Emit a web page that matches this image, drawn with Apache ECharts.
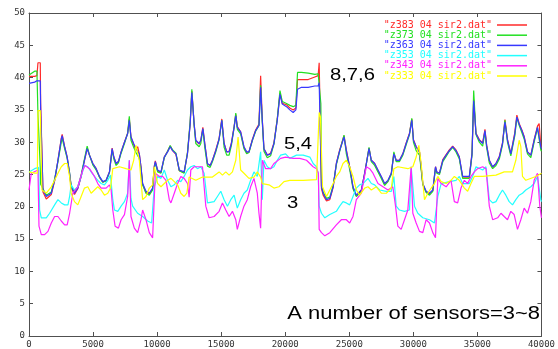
<!DOCTYPE html>
<html>
<head>
<meta charset="utf-8">
<script src="https://cdn.jsdelivr.net/npm/echarts@6/dist/echarts.min.js"></script>
<style>
  html, body { margin: 0; padding: 0; background: #fff; }
  #complexChart { width: 558px; height: 349px; }
</style>
</head>
<body>
<div id="complexChart"></div>
<script>
// sensors 8,7,6 share one x grid
const topX = [
  0, 440, 620, 700, 880, 910, 1090, 1350, 1740, 2000,
  2260, 2520, 2590, 2780, 2980, 3170, 3290, 3550, 3810, 4070,
  4330, 4540, 4720, 4980, 5240, 5500, 5760, 6020, 6280, 6490,
  6620, 6800, 6980, 7190, 7450, 7700, 7830, 7960, 8170, 8350,
  8480, 8610, 8740, 8870, 9130, 9390, 9650, 9780, 9860, 10040,
  10300, 10560, 10820, 11020, 11210, 11470, 11730, 12110, 12370, 12580,
  12710, 12890, 13020, 13280, 13410, 13570, 13720, 13930, 14140, 14320,
  14580, 14840, 15050, 15230, 15430, 15620, 15800, 16010, 16140, 16260,
  16520, 16780, 16990, 17170, 17430, 17690, 17950, 18080, 18210, 18340,
  18600, 18860, 19120, 19380, 19590, 19770, 20100, 20360, 20620, 20830,
  20960, 21270, 21790, 22310, 22570, 22650, 22780, 22830, 22960, 23220,
  23480, 23740, 23990, 24250, 24590, 24770, 25030, 25290, 25550, 25940,
  26200, 26540, 26720, 26980, 27240, 27500, 27760, 28020, 28280, 28480,
  28660, 28920, 29180, 29440, 29700, 29880, 30010, 30220, 30480, 30610,
  30740, 31000, 31260, 31520, 31730, 31830, 32040, 32300, 32560, 32810,
  33070, 33330, 33590, 33850, 34370, 34580, 34710, 34890, 35150, 35410,
  35590, 35720, 35930, 36190, 36450, 36710, 36960, 37150, 37350, 37610,
  37740, 37920, 38080, 38260, 38470, 38650, 38910, 39170, 39430, 39690,
  39820, 39950, 40000
]
const z383 = [
  40.2, 40.2, 40.3, 42.3, 42.3, 36.0, 22.3, 21.2, 21.9, 24.0,
  27.2, 30.6, 31.2, 29.3, 27.7, 25.0, 23.0, 21.9, 22.8, 24.7,
  27.2, 29.1, 28.0, 26.7, 25.9, 24.6, 23.8, 24.1, 25.4, 29.1,
  27.7, 26.7, 27.0, 28.5, 30.0, 31.4, 33.6, 30.8, 29.6, 28.9,
  29.3, 28.2, 26.2, 23.5, 22.2, 22.0, 22.8, 26.3, 27.1, 25.6,
  25.3, 27.7, 28.6, 29.4, 28.7, 28.1, 25.6, 25.3, 28.3, 32.9,
  37.9, 32.8, 30.2, 29.7, 30.3, 32.3, 29.8, 26.6, 26.4, 27.2,
  28.8, 30.6, 33.6, 29.8, 28.5, 28.6, 29.9, 32.4, 34.3, 32.4,
  31.6, 29.2, 28.4, 28.5, 30.4, 31.9, 32.8, 40.3, 33.5, 29.0,
  28.0, 28.3, 29.9, 33.6, 37.6, 36.0, 35.8, 35.3, 35.0, 35.3,
  39.7, 39.7, 39.7, 40.1, 40.3, 42.3, 42.3, 22.8, 21.8, 20.9,
  21.1, 23.0, 26.7, 28.8, 31.0, 28.8, 26.2, 23.0, 21.7, 22.5,
  25.2, 29.1, 27.2, 26.7, 25.6, 24.6, 23.5, 24.0, 25.2, 28.3,
  27.2, 27.2, 28.2, 29.9, 31.4, 33.6, 30.4, 29.3, 28.5, 26.1,
  23.5, 22.3, 22.0, 22.5, 26.2, 25.4, 25.2, 27.3, 28.1, 28.8,
  29.4, 28.8, 27.7, 24.6, 24.6, 28.3, 36.6, 31.4, 30.4, 29.9,
  32.0, 29.6, 27.2, 26.1, 26.7, 27.8, 29.9, 33.5, 30.4, 28.2,
  28.2, 31.5, 34.2, 32.9, 31.9, 30.9, 28.5, 28.0, 30.4, 32.5,
  32.9, 29.4, 29.1
]
const z373 = [
  40.4, 41.0, 41.0, 34.3, 26.0, 23.5, 22.8, 21.8, 22.3, 24.3,
  27.0, 30.0, 30.6, 29.0, 27.5, 25.2, 23.3, 22.3, 23.1, 24.9,
  27.4, 29.4, 28.0, 26.5, 25.7, 24.6, 23.8, 24.0, 25.3, 28.8,
  27.4, 26.4, 26.8, 28.3, 29.8, 31.4, 34.0, 30.3, 29.2, 28.4,
  28.6, 27.5, 25.8, 23.4, 22.1, 21.8, 22.6, 26.0, 26.8, 25.4,
  25.2, 27.6, 28.6, 29.5, 28.8, 28.3, 25.6, 25.2, 28.4, 33.2,
  38.2, 32.6, 29.8, 29.3, 29.8, 32.0, 29.2, 26.3, 26.1, 27.0,
  28.5, 30.4, 33.4, 29.2, 28.0, 28.0, 29.5, 32.3, 34.5, 32.0,
  31.3, 29.0, 28.2, 28.4, 30.2, 31.7, 32.6, 38.8, 33.0, 28.6,
  27.6, 27.9, 29.7, 33.6, 38.0, 36.3, 36.0, 35.7, 35.5, 35.7,
  40.8, 40.8, 40.7, 40.5, 40.6, 40.8, 36.0, 23.3, 22.3, 21.3,
  21.5, 23.3, 26.5, 28.6, 31.1, 28.2, 25.8, 22.8, 21.6, 22.4,
  25.0, 29.2, 27.0, 26.4, 25.4, 24.4, 23.3, 23.9, 25.0, 28.5,
  27.0, 27.0, 28.0, 29.6, 31.2, 33.7, 30.0, 28.7, 28.0, 25.8,
  23.4, 22.2, 21.8, 22.4, 26.0, 25.2, 25.0, 27.0, 27.8, 28.6,
  29.2, 28.5, 27.4, 24.4, 24.4, 28.0, 38.0, 31.2, 30.0, 29.4,
  31.6, 29.2, 26.8, 25.9, 26.4, 27.4, 29.6, 33.4, 30.0, 27.9,
  27.7, 31.0, 33.8, 32.6, 31.5, 30.5, 28.2, 27.6, 30.0, 32.2,
  32.4, 28.8, 28.6
]
const z363 = [
  39.1, 39.3, 39.5, 39.5, 39.5, 35.0, 22.6, 21.6, 22.1, 24.1,
  27.2, 30.5, 31.0, 29.3, 27.7, 25.2, 23.1, 22.1, 22.9, 24.7,
  27.2, 29.0, 28.0, 26.7, 25.9, 24.7, 23.9, 24.1, 25.4, 29.0,
  27.7, 26.7, 27.0, 28.5, 30.0, 31.3, 33.4, 30.8, 29.8, 29.0,
  29.3, 28.2, 26.2, 23.6, 22.4, 22.1, 22.9, 26.2, 27.0, 25.7,
  25.4, 27.7, 28.5, 29.3, 28.7, 28.2, 25.7, 25.4, 28.2, 32.8,
  37.7, 32.8, 30.3, 29.8, 30.3, 32.1, 29.8, 26.7, 26.4, 27.2,
  28.7, 30.5, 33.4, 29.8, 28.5, 28.5, 29.8, 32.3, 34.1, 32.3,
  31.6, 29.3, 28.5, 28.5, 30.3, 31.8, 32.6, 38.5, 33.4, 29.0,
  28.0, 28.2, 29.8, 33.4, 37.4, 35.9, 35.5, 35.0, 34.6, 35.0,
  38.2, 38.5, 38.5, 38.7, 38.7, 39.2, 39.5, 23.1, 22.1, 21.1,
  21.3, 23.1, 26.7, 28.7, 30.8, 28.7, 26.2, 23.1, 21.8, 22.6,
  25.2, 29.0, 27.2, 26.7, 25.7, 24.7, 23.6, 24.1, 25.2, 28.2,
  27.2, 27.2, 28.2, 29.8, 31.3, 33.4, 30.3, 29.3, 28.5, 26.2,
  23.6, 22.4, 22.1, 22.6, 26.2, 25.4, 25.2, 27.2, 28.0, 28.7,
  29.3, 28.7, 27.7, 24.7, 24.7, 28.2, 36.4, 31.3, 30.3, 29.8,
  31.8, 29.5, 27.2, 26.2, 26.7, 27.7, 29.8, 33.1, 30.3, 28.2,
  28.2, 31.3, 33.9, 32.8, 31.8, 30.8, 28.5, 28.0, 30.3, 32.3,
  32.6, 29.3, 29.0
]

const z353X = [
  0, 440, 750, 830, 960, 1350, 1610, 2000, 2260, 2520,
  2780, 3040, 3170, 3290, 3550, 3810, 4070, 4330, 4590, 4850,
  5110, 5370, 5630, 5890, 6150, 6360, 6540, 6670, 6930, 7190,
  7450, 7700, 7830, 7960, 8090, 8480, 8870, 9260, 9570, 9780,
  10040, 10300, 10560, 10820, 11080, 11340, 11600, 11850, 12110, 12370,
  12630, 12890, 13150, 13410, 13670, 13930, 14450, 14710, 14970, 15230,
  15490, 15750, 16010, 16260, 16520, 16780, 17040, 17300, 17560, 17820,
  18080, 18210, 18340, 18600, 18860, 19120, 19380, 19640, 20030, 20360,
  20880, 21400, 21920, 22180, 22440, 22570, 22650, 22830, 23090, 23480,
  23990, 24250, 24510, 24770, 25030, 25290, 25550, 25810, 26070, 26460,
  26720, 26980, 27370, 27890, 28280, 28480, 28660, 28920, 29310, 29700,
  29830, 30090, 30350, 30740, 31260, 31650, 31910, 32170, 32810, 33330,
  33590, 33850, 34370, 34630, 34890, 35410, 35670, 35930, 36190, 36450,
  36710, 36960, 37220, 37480, 37740, 38000, 38260, 38520, 38780, 39170,
  39430, 39690, 39950, 40000
]
const z353 = [
  25.4, 25.9, 26.1, 19.5, 18.3, 18.3, 19.0, 20.3, 21.1, 20.6,
  20.3, 20.3, 21.6, 23.4, 22.6, 23.1, 24.7, 26.4, 26.2, 25.4,
  24.7, 24.1, 23.6, 23.4, 24.1, 24.9, 21.1, 19.5, 19.3, 20.1,
  20.8, 22.1, 27.2, 21.3, 20.1, 19.0, 18.5, 17.8, 17.5, 23.1,
  24.7, 24.4, 25.7, 24.1, 23.1, 23.4, 24.1, 23.9, 24.7, 25.7,
  26.2, 26.4, 25.9, 26.2, 25.2, 20.6, 20.8, 21.6, 22.4, 21.1,
  20.1, 21.1, 21.8, 19.8, 21.1, 22.1, 22.6, 24.1, 25.4, 24.7,
  28.5, 21.1, 27.2, 26.2, 25.9, 26.2, 27.2, 28.0, 28.2, 27.5,
  28.0, 28.0, 27.7, 26.7, 26.2, 25.2, 20.1, 19.0, 18.3, 18.8,
  19.3, 20.1, 20.8, 20.6, 20.3, 21.6, 22.9, 23.4, 23.6, 24.4,
  23.6, 23.4, 22.6, 22.4, 22.4, 24.7, 20.1, 19.5, 19.3, 19.5,
  26.2, 20.1, 19.0, 18.3, 18.0, 17.5, 21.6, 23.6, 23.9, 24.1,
  24.7, 23.6, 23.6, 24.7, 26.2, 25.7, 26.2, 21.1, 20.6, 20.8,
  21.8, 22.6, 21.8, 20.8, 20.3, 21.1, 21.8, 22.1, 22.6, 23.1,
  23.6, 24.7, 21.1, 20.8
]

const z343X = [
  0, 180, 700, 780, 960, 1220, 1480, 1740, 2000, 2260,
  2520, 2780, 2980, 3170, 3420, 3810, 4200, 4380, 4720, 5110,
  5370, 5630, 6020, 6280, 6410, 6540, 6720, 6980, 7190, 7450,
  7700, 7830, 7960, 8220, 8480, 8740, 8870, 9130, 9390, 9650,
  9860, 10170, 10430, 10690, 10950, 11080, 11340, 11600, 11850, 12110,
  12370, 12500, 12630, 12890, 13540, 13800, 14060, 14450, 14840, 15100,
  15360, 15620, 15880, 16140, 16260, 16520, 16780, 17040, 17300, 17560,
  17820, 17950, 18080, 18210, 18470, 18860, 19120, 19640, 20030, 20620,
  21140, 21660, 22180, 22440, 22590, 22650, 22830, 23090, 23480, 23990,
  24380, 24770, 25030, 25290, 25550, 25940, 26330, 26590, 26850, 27240,
  27630, 28020, 28400, 28610, 28790, 29050, 29310, 29570, 29830, 29960,
  30220, 30480, 30740, 31000, 31260, 31520, 31730, 31910, 32170, 32560,
  32940, 33200, 33460, 33720, 33980, 34240, 34500, 34760, 35020, 35410,
  35670, 35930, 36190, 36580, 36840, 37090, 37350, 37610, 37870, 38130,
  38390, 38650, 38910, 39170, 39430, 39690, 39870, 40000
]
const z343 = [
  22.6, 25.2, 25.7, 17.0, 15.7, 15.7, 16.2, 17.5, 18.5, 18.5,
  17.8, 17.2, 17.2, 19.0, 22.1, 23.1, 25.7, 26.4, 25.9, 24.7,
  23.6, 22.9, 22.9, 23.4, 22.6, 19.5, 17.0, 16.7, 18.0, 18.8,
  21.6, 27.2, 18.5, 16.7, 16.0, 18.0, 19.5, 18.0, 16.0, 15.2,
  25.2, 24.7, 24.7, 24.1, 21.1, 20.6, 22.1, 23.6, 24.7, 24.4,
  23.6, 21.5, 25.7, 26.2, 26.2, 20.1, 18.3, 18.5, 19.3, 20.6,
  19.5, 18.5, 19.3, 18.0, 16.5, 18.5, 20.1, 21.1, 23.1, 24.4,
  22.1, 19.0, 16.7, 27.2, 25.9, 25.9, 26.7, 27.5, 27.7, 27.5,
  27.5, 27.2, 26.2, 25.9, 25.2, 16.5, 16.0, 15.5, 16.0, 17.2,
  18.0, 18.0, 17.5, 18.5, 21.1, 22.1, 26.2, 25.9, 25.2, 23.6,
  23.1, 22.6, 23.1, 20.1, 17.0, 16.5, 18.0, 19.5, 26.2, 19.0,
  17.5, 16.2, 16.0, 18.0, 17.5, 16.0, 15.2, 24.4, 23.6, 23.1,
  24.1, 20.8, 20.6, 22.9, 24.1, 23.6, 24.7, 25.4, 25.9, 26.2,
  25.9, 20.1, 18.0, 18.3, 19.0, 18.5, 18.0, 19.3, 18.8, 16.5,
  18.0, 19.8, 19.0, 20.8, 24.1, 25.2, 20.1, 18.3
]

const z333X = [
  0, 440, 650, 700, 880, 1010, 1350, 1740, 2000, 2260,
  2520, 2780, 2980, 3170, 3290, 3550, 3810, 4070, 4330, 4590,
  4850, 5110, 5370, 5630, 5890, 6150, 6360, 6540, 7060, 7570,
  7960, 8170, 8350, 8610, 8870, 9130, 9390, 9650, 9780, 10040,
  10300, 10560, 10820, 11080, 11340, 11600, 11850, 12110, 12320, 12500,
  13020, 13540, 14320, 14840, 15100, 15360, 15620, 15880, 16140, 16320,
  16520, 16780, 17170, 17560, 17820, 18080, 18210, 18730, 19120, 19510,
  19900, 20360, 21400, 22440, 22590, 22650, 22750, 22910, 23220, 23480,
  23740, 23990, 24250, 24510, 24770, 25030, 25290, 25550, 25810, 26200,
  26460, 26720, 27110, 27500, 27890, 28280, 28480, 28790, 29570, 29960,
  30220, 30430, 30610, 30870, 31130, 31390, 31650, 31910, 32170, 32560,
  32940, 33200, 33590, 33980, 34240, 34500, 34760, 35410, 36450, 37090,
  37740, 38000, 38260, 38390, 38520, 38780, 39560, 40000
]
const z333 = [
  25.4, 25.2, 25.2, 34.9, 34.9, 22.6, 22.1, 23.1, 24.1, 25.2,
  26.2, 26.7, 26.7, 24.7, 22.1, 20.8, 20.3, 21.6, 22.9, 23.1,
  22.1, 22.6, 23.1, 22.6, 21.8, 22.1, 22.9, 25.9, 26.2, 25.9,
  25.7, 27.2, 29.5, 27.2, 21.1, 21.6, 22.9, 23.4, 26.2, 23.6,
  23.1, 23.6, 24.1, 24.4, 23.9, 23.4, 22.1, 21.6, 22.1, 24.6,
  24.1, 24.6, 24.6, 25.4, 24.9, 25.4, 24.9, 25.4, 27.2, 30.8,
  25.7, 25.2, 24.4, 24.6, 25.4, 24.6, 23.6, 23.4, 22.9, 23.1,
  23.9, 24.1, 24.1, 24.2, 24.3, 34.6, 33.9, 23.1, 21.6, 22.6,
  23.6, 24.7, 25.4, 26.7, 27.2, 26.2, 24.7, 22.6, 21.8, 22.9,
  23.1, 22.6, 23.1, 22.1, 22.1, 22.9, 25.9, 26.2, 25.9, 26.2,
  27.7, 29.5, 26.7, 21.1, 22.1, 22.9, 23.6, 24.7, 23.9, 23.6,
  24.1, 24.7, 24.1, 22.9, 22.4, 23.6, 24.7, 24.7, 24.9, 25.4,
  25.4, 27.2, 30.3, 29.3, 24.7, 24.1, 24.7, 25.2
]

const seriesNames = [
  '"z383 04 sir2.dat"', '"z373 04 sir2.dat"', '"z363 04 sir2.dat"',
  '"z353 04 sir2.dat"', '"z343 04 sir2.dat"', '"z333 04 sir2.dat"'
]
const seriesColors = ['#ff2a2a', '#22e022', '#3838ff', '#22ffff', '#ff22ff', '#ffff00']

function zip(xs, ys) {
  return xs.map((x, i) => [x, ys[i]])
}

const seriesData = [
  zip(topX, z383),
  zip(topX, z373),
  zip(topX, z363),
  zip(z353X, z353),
  zip(z343X, z343),
  zip(z333X, z333)
]

const tickFont = { fontFamily: 'DejaVu Sans Mono', fontSize: 9, color: '#333' }
const frameColor = '#505050'

function axisBase(show) {
  return {
    axisLine: { show: true, onZero: false, lineStyle: { color: frameColor, width: 1 } },
    axisTick: { show: true, inside: true, length: 4, lineStyle: { color: frameColor } },
    axisLabel: Object.assign({ show: show, margin: 4, formatter: (v) => String(v) }, tickFont),
    splitLine: { show: false }
  }
}

const chartOption = {
  animation: false,
  backgroundColor: '#fff',
  grid: { left: 29, right: 15, top: 13, bottom: 12, containLabel: false },
  legend: {
    orient: 'vertical',
    right: 26,
    top: 15,
    align: 'right',
    icon: 'rect',
    itemWidth: 30,
    itemHeight: 1.5,
    itemGap: 0.2,
    textStyle: { fontFamily: 'DejaVu Sans Mono', fontSize: 10, lineHeight: 8 },
    data: seriesNames.map((n, i) => ({ name: n, textStyle: { color: seriesColors[i] } }))
  },
  xAxis: [
    Object.assign({ type: 'value', min: 0, max: 40000, interval: 5000, position: 'bottom' }, axisBase(true)),
    Object.assign({ type: 'value', min: 0, max: 40000, interval: 5000, position: 'top' }, axisBase(false))
  ],
  yAxis: [
    Object.assign({ type: 'value', min: 0, max: 50, interval: 5, position: 'left' }, axisBase(true)),
    Object.assign({ type: 'value', min: 0, max: 50, interval: 5, position: 'right' }, axisBase(false))
  ],
  series: seriesNames.map((n, i) => ({
    name: n,
    type: 'line',
    data: seriesData[i],
    showSymbol: false,
    symbol: 'none',
    lineStyle: { color: seriesColors[i], width: 1.2 },
    itemStyle: { color: seriesColors[i] },
    z: 2 + i
  })),
  graphic: [
    { type: 'text', x: 330, y: 75, scaleX: 1.19, style: { text: '8,7,6', fontFamily: 'Liberation Sans', fontSize: 17, fill: '#000', verticalAlign: 'middle', align: 'left' } },
    { type: 'text', x: 284, y: 144, scaleX: 1.19, style: { text: '5,4', fontFamily: 'Liberation Sans', fontSize: 17, fill: '#000', verticalAlign: 'middle', align: 'left' } },
    { type: 'text', x: 287, y: 203, scaleX: 1.19, style: { text: '3', fontFamily: 'Liberation Sans', fontSize: 17, fill: '#000', verticalAlign: 'middle', align: 'left' } },
    { type: 'text', x: 540, y: 314, scaleX: 1.22, style: { text: 'A number of sensors=3~8', fontFamily: 'Liberation Sans', fontSize: 18, fill: '#000', verticalAlign: 'middle', align: 'right' } }
  ]
}

const myChart = echarts.init(document.getElementById('complexChart'), null, { renderer: 'canvas' })
myChart.setOption(chartOption, true)
</script>
</body>
</html>
